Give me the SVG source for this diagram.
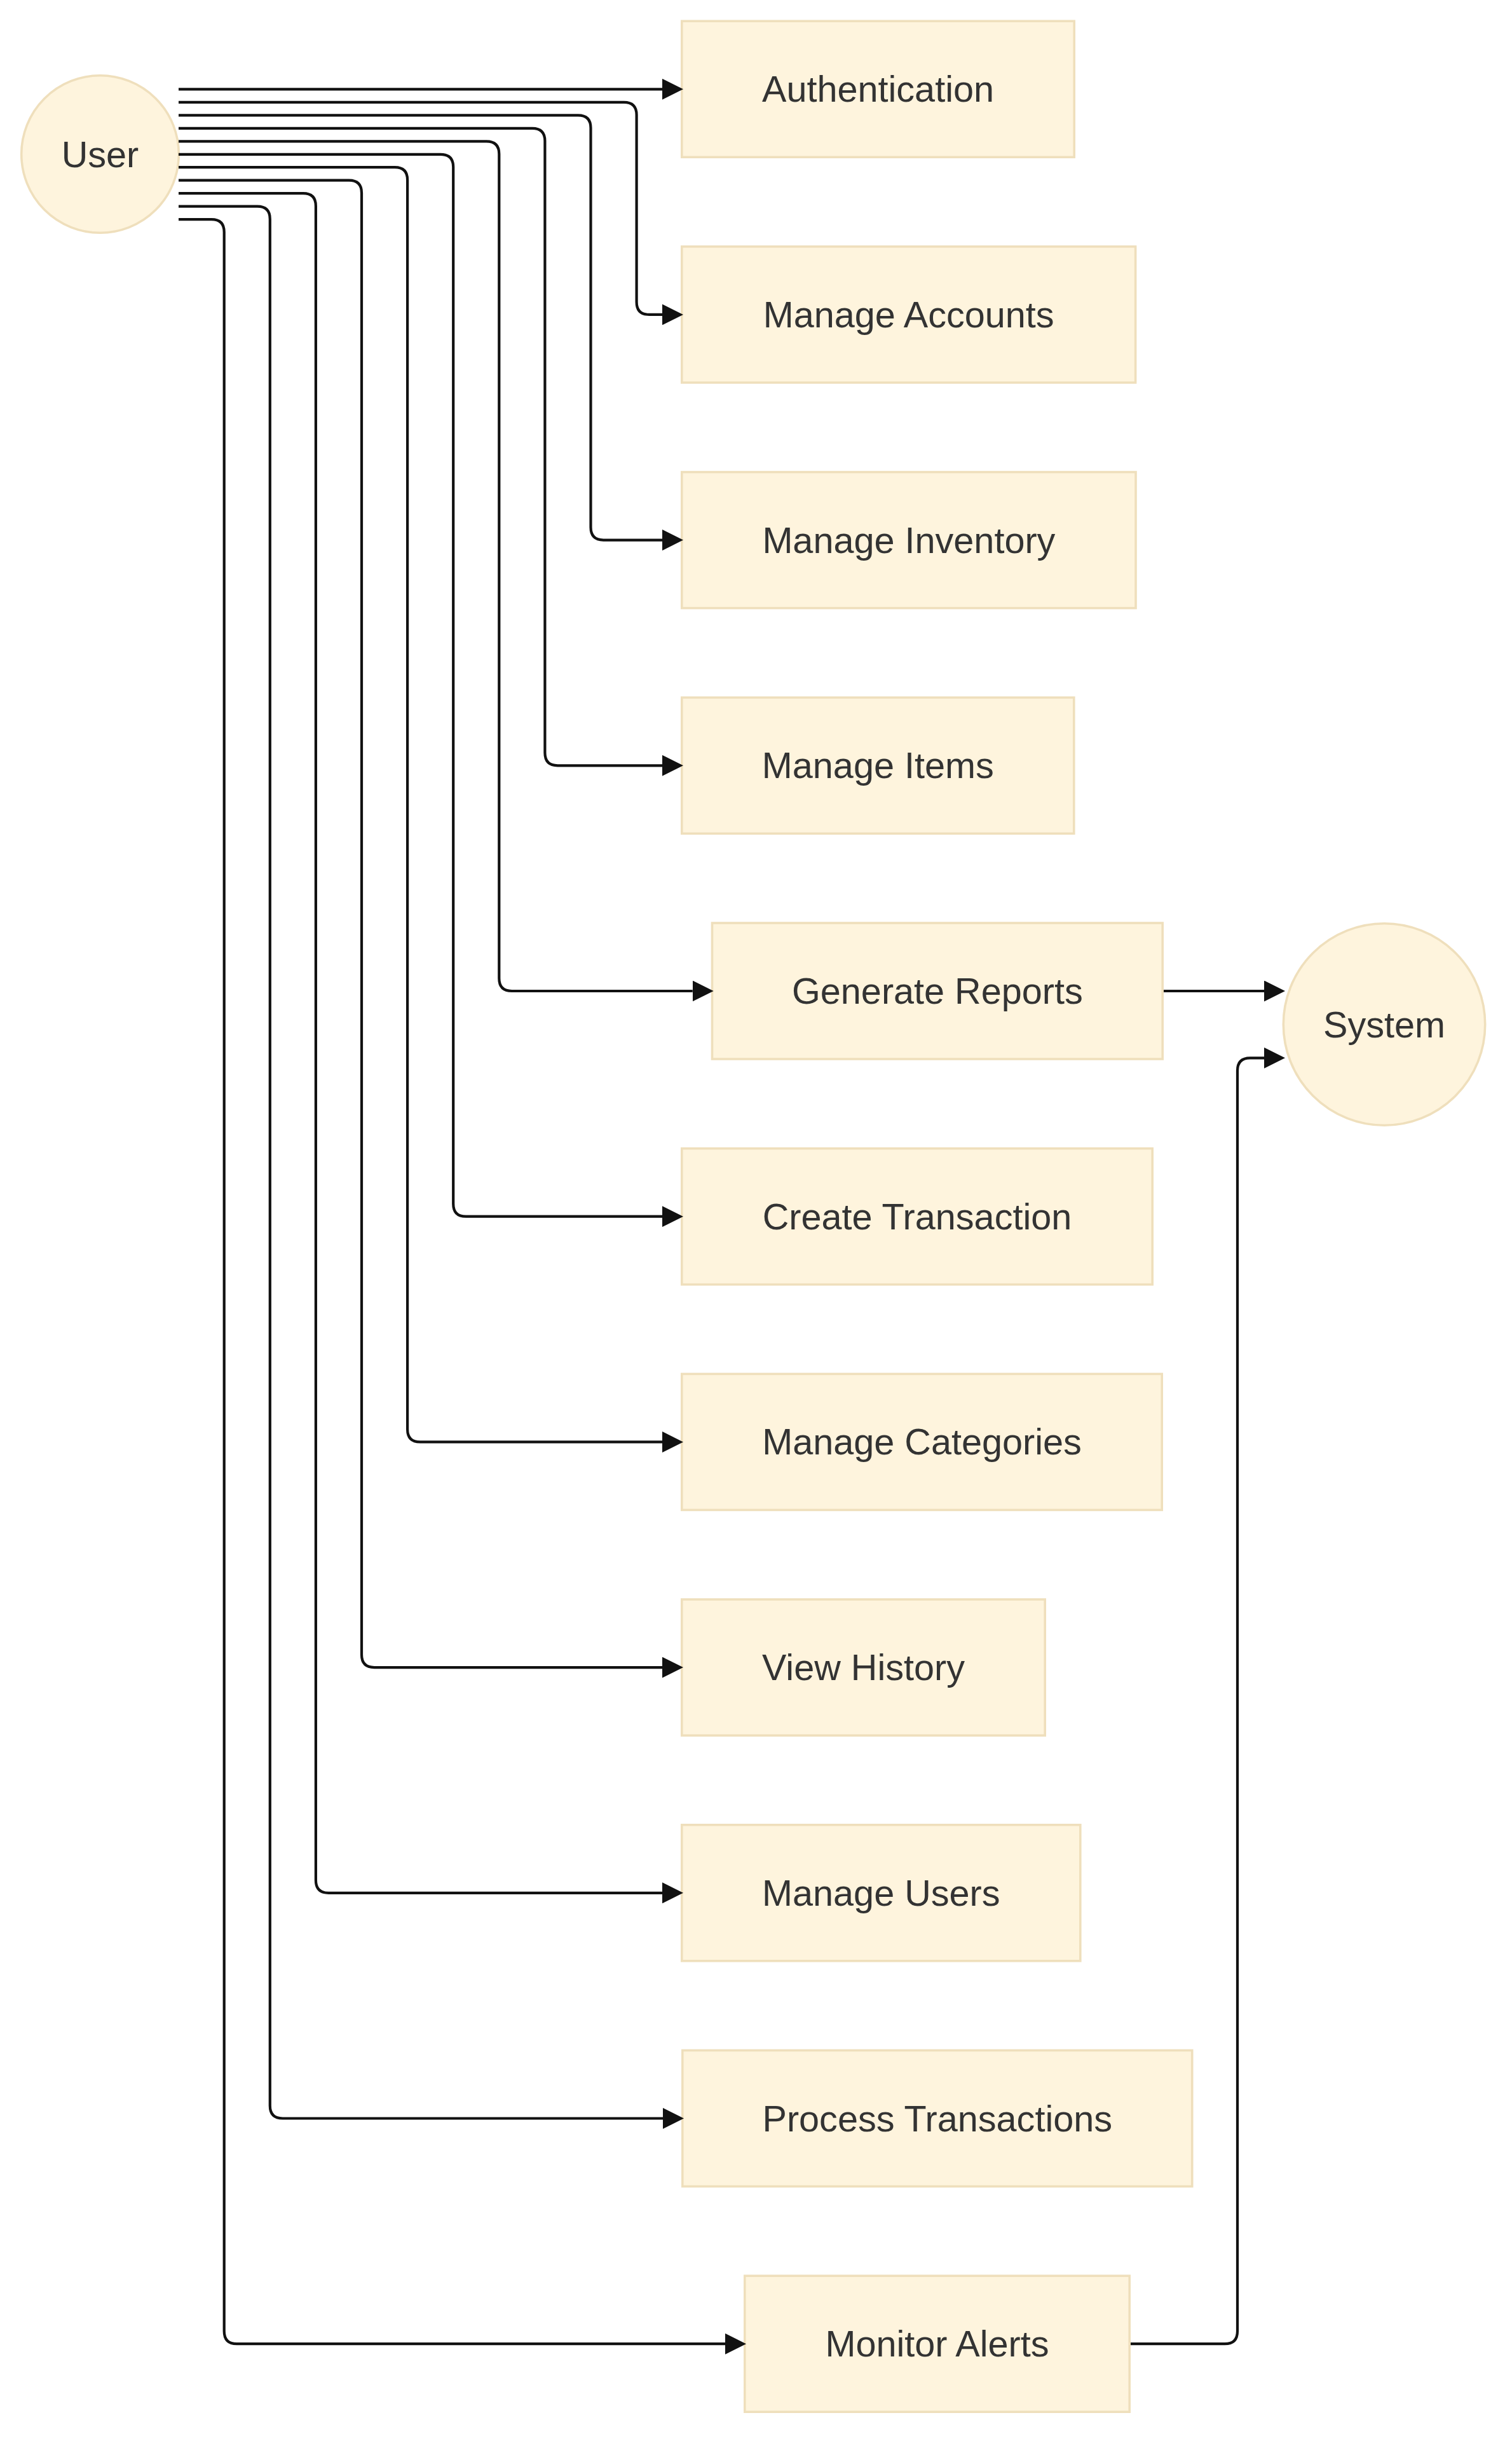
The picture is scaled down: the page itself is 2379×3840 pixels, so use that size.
<svg xmlns="http://www.w3.org/2000/svg" width="2379" height="3840" viewBox="0 0 2379 3840">
<style>
.n rect, .n circle { fill: #fef4dd; stroke: #efdfbc; stroke-width: 3.6; }
.n text { font-family: "Liberation Sans", Arial, sans-serif; font-size: 57.6px; fill: #333333; text-anchor: middle; }
.e path { fill: none; stroke: #111111; stroke-width: 4.2; marker-end: url(#arr); }
</style>
<defs>
<marker id="arr" viewBox="0 0 10 10" refX="0" refY="5" markerUnits="userSpaceOnUse" markerWidth="33" markerHeight="33" orient="auto">
<path d="M0,0 L10,5 L0,10 z" fill="#111111"/>
</marker>
</defs>
<rect width="2379" height="3840" fill="#ffffff"/>
<g id="nodes">
<g id="user" class="n"><circle cx="157.5" cy="242.5" r="123.8"/><text x="157.5" y="262.5">User</text></g>
<g id="system" class="n"><circle cx="2178" cy="1611.5" r="158.7"/><text x="2178" y="1631.5">System</text></g>
<g id="authentication" class="n"><rect x="1072.8" y="33.2" width="617.4" height="214"/><text x="1381.5" y="160.2">Authentication</text></g>
<g id="manage-accounts" class="n"><rect x="1072.8" y="387.9" width="713.8" height="214"/><text x="1429.7" y="514.9">Manage Accounts</text></g>
<g id="manage-inventory" class="n"><rect x="1072.8" y="742.6" width="714.2" height="214"/><text x="1429.9" y="869.6">Manage Inventory</text></g>
<g id="manage-items" class="n"><rect x="1072.8" y="1097.3" width="617" height="214"/><text x="1381.3" y="1224.3">Manage Items</text></g>
<g id="generate-reports" class="n"><rect x="1120.5" y="1452" width="708.7" height="214"/><text x="1474.9" y="1579">Generate Reports</text></g>
<g id="create-transaction" class="n"><rect x="1072.8" y="1806.7" width="740.4" height="214"/><text x="1443" y="1933.7">Create Transaction</text></g>
<g id="manage-categories" class="n"><rect x="1072.8" y="2161.4" width="755.4" height="214"/><text x="1450.5" y="2288.4">Manage Categories</text></g>
<g id="view-history" class="n"><rect x="1072.8" y="2516.1" width="571.4" height="214"/><text x="1358.5" y="2643.1">View History</text></g>
<g id="manage-users" class="n"><rect x="1072.8" y="2870.8" width="627" height="214"/><text x="1386.3" y="2997.8">Manage Users</text></g>
<g id="process-transactions" class="n"><rect x="1073.8" y="3225.5" width="801.9" height="214"/><text x="1474.8" y="3352.5">Process Transactions</text></g>
<g id="monitor-alerts" class="n"><rect x="1171.8" y="3580.2" width="605.4" height="214"/><text x="1474.5" y="3707.2">Monitor Alerts</text></g>
</g>
<g id="connectors" class="e">
<path d="M281 140.3 L1042 140.3"/>
<path d="M281 160.8 L981.6 160.8 Q1001.6 160.8 1001.6 180.8 L1001.6 474.9 Q1001.6 494.9 1021.6 494.9 L1042 494.9"/>
<path d="M281 181.3 L909.5 181.3 Q929.5 181.3 929.5 201.3 L929.5 829.6 Q929.5 849.6 949.5 849.6 L1042 849.6"/>
<path d="M281 201.8 L837.4 201.8 Q857.4 201.8 857.4 221.8 L857.4 1184.3 Q857.4 1204.3 877.4 1204.3 L1042 1204.3"/>
<path d="M281 222.3 L765.3 222.3 Q785.3 222.3 785.3 242.3 L785.3 1539 Q785.3 1559 805.3 1559 L1089.7 1559"/>
<path d="M281 242.8 L693.2 242.8 Q713.2 242.8 713.2 262.8 L713.2 1893.7 Q713.2 1913.7 733.2 1913.7 L1042 1913.7"/>
<path d="M281 263.2 L621.1 263.2 Q641.1 263.2 641.1 283.2 L641.1 2248.4 Q641.1 2268.4 661.1 2268.4 L1042 2268.4"/>
<path d="M281 283.7 L549 283.7 Q569 283.7 569 303.7 L569 2603.1 Q569 2623.1 589 2623.1 L1042 2623.1"/>
<path d="M281 304.2 L476.9 304.2 Q496.9 304.2 496.9 324.2 L496.9 2957.8 Q496.9 2977.8 516.9 2977.8 L1042 2977.8"/>
<path d="M281 324.7 L404.8 324.7 Q424.8 324.7 424.8 344.7 L424.8 3312.5 Q424.8 3332.5 444.8 3332.5 L1043 3332.5"/>
<path d="M281 345.2 L332.7 345.2 Q352.7 345.2 352.7 365.2 L352.7 3667.2 Q352.7 3687.2 372.7 3687.2 L1141 3687.2"/>
<path d="M1831 1559 L1989 1559"/>
<path d="M1779 3687.2 L1927 3687.2 Q1947 3687.2 1947 3667.2 L1947 1684.3 Q1947 1664.3 1967 1664.3 L1989 1664.3"/>
</g>
</svg>
